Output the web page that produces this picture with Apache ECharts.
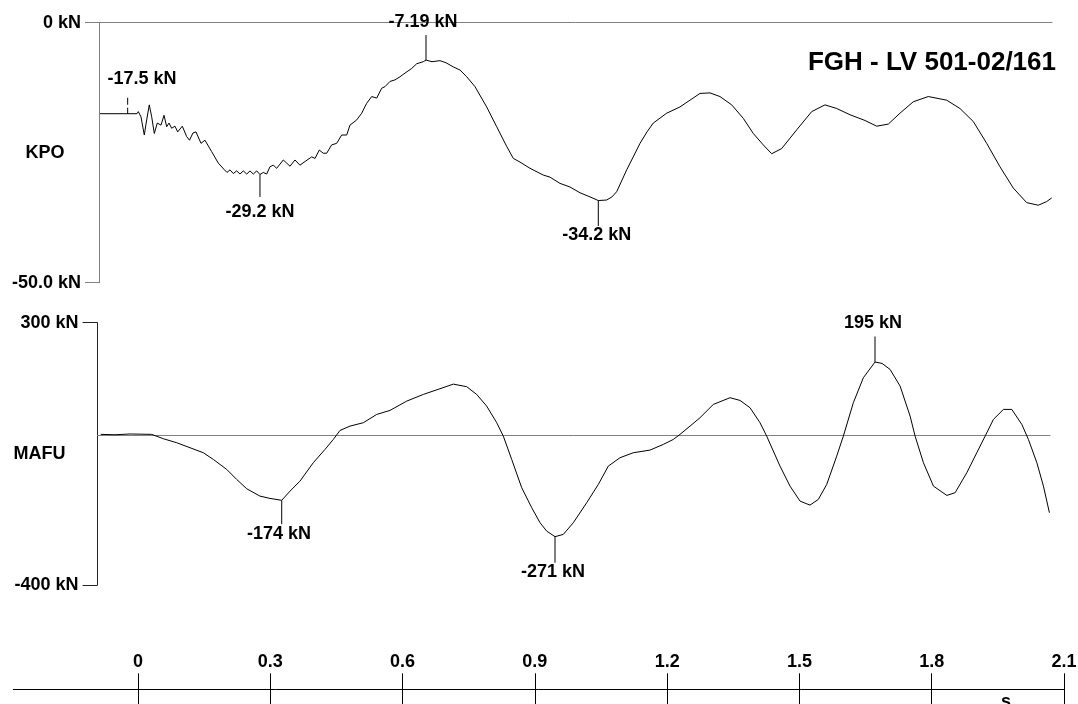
<!DOCTYPE html>
<html><head><meta charset="utf-8">
<script src="https://cdn.jsdelivr.net/npm/echarts@6/dist/echarts.min.js"></script>
<style>html,body{margin:0;padding:0;background:#fff}#c{width:1078px;height:704px}</style>
</head><body><div id="c"></div>
<script>
// ---- data (time in s, force in kN) ----
const kpoTime = [-0.0862,-0.0023,0.0007,0.0068,0.0143,0.0197,0.0256,0.0311,0.0370,0.0438,
0.0483,0.0522,0.0590,0.0651,0.0703,0.0764,0.0839,0.0900,0.1005,0.1104,
0.1168,0.1247,0.1315,0.1429,0.1519,0.1671,0.1821,0.1950,0.2018,0.2086,
0.2161,0.2238,0.2313,0.2388,0.2465,0.2540,0.2615,0.2692,0.2766,0.2841,
0.2918,0.2993,0.3068,0.3145,0.3295,0.3372,0.3447,0.3560,0.3673,0.3787,
0.3939,0.4014,0.4112,0.4202,0.4279,0.4392,0.4506,0.4619,0.4733,0.4807,
0.4959,0.5073,0.5186,0.5300,0.5413,0.5526,0.5601,0.5714,0.5828,0.5941,
0.6054,0.6206,0.6320,0.6469,0.6531,0.6667,0.6848,0.6984,0.7150,0.7302,
0.7454,0.7642,0.7907,0.8134,0.8361,0.8511,0.8662,0.8889,0.9190,0.9343,
0.9569,0.9796,1.0023,1.0250,1.0438,1.0628,1.0748,1.0855,1.1082,1.1384,
1.1542,1.1685,1.1989,1.2290,1.2517,1.2744,1.2971,1.3197,1.3463,1.3726,
1.3952,1.4179,1.4370,1.4597,1.4937,1.5277,1.5578,1.5844,1.6145,1.6485,
1.6751,1.7014,1.7279,1.7581,1.7921,1.8338,1.8639,1.8941,1.9245,1.9546,
1.9848,2.0152,2.0415,2.0605,2.0719];
const kpoForce = [-17.5,-17.5,-17.1,-18.1,-21.6,-18.7,-15.8,-18.1,-21.3,-19.3,
-19.0,-19.7,-17.8,-20.0,-19.3,-20.3,-19.9,-21.0,-19.9,-21.9,
-22.6,-21.2,-21.0,-23.2,-22.6,-24.8,-27.0,-28.2,-28.8,-28.3,
-29.0,-28.5,-29.1,-28.5,-29.1,-28.5,-29.1,-28.5,-29.2,-28.8,
-29.1,-27.7,-27.4,-28.0,-26.4,-27.0,-27.6,-26.4,-27.4,-26.7,
-25.8,-26.1,-24.5,-25.1,-25.1,-23.5,-23.2,-21.6,-21.6,-19.7,
-18.7,-17.4,-15.5,-14.2,-14.5,-12.6,-12.3,-11.3,-11.0,-10.4,
-9.7,-8.8,-7.9,-7.5,-7.19,-7.5,-7.3,-7.7,-8.5,-9.1,
-10.4,-12.3,-16.2,-20.0,-23.8,-26.1,-26.8,-28.0,-29.3,-29.7,
-30.9,-31.6,-32.7,-33.5,-34.2,-34.1,-33.5,-32.5,-28.3,-23.2,
-21.0,-19.3,-17.4,-16.2,-14.9,-13.6,-13.5,-14.2,-15.8,-18.4,
-21.3,-23.5,-25.2,-24.2,-20.6,-17.1,-15.8,-16.5,-17.7,-18.8,
-19.9,-19.5,-17.4,-15.2,-14.2,-14.9,-16.5,-19.0,-23.2,-27.7,
-31.8,-34.6,-35.1,-34.4,-33.7];
const mafuTime = [-0.0846,-0.0522,-0.0181,0.0311,0.0574,0.0878,0.1179,0.1481,0.1708,0.2011,
0.2238,0.2465,0.2766,0.2993,0.3259,0.3447,0.3673,0.3975,0.4240,0.4429,
0.4581,0.4807,0.5109,0.5413,0.5714,0.6093,0.6470,0.6848,0.7150,0.7454,
0.7680,0.7907,0.8134,0.8284,0.8474,0.8701,0.8928,0.9116,0.9268,0.9456,
0.9644,0.9871,1.0175,1.0438,1.0665,1.0930,1.1232,1.1610,1.1912,1.2139,
1.2290,1.2517,1.2744,1.3046,1.3424,1.3651,1.3878,1.4104,1.4256,1.4558,
1.4785,1.5012,1.5238,1.5427,1.5617,1.5844,1.5994,1.6221,1.6448,1.6712,
1.6872,1.7054,1.7281,1.7508,1.7621,1.7810,1.8037,1.8340,1.8528,1.8794,
1.9020,1.9209,1.9397,1.9624,1.9814,2.0041,2.0191,2.0382,2.0531,2.0667];
const mafuForce = [2,1,3,2,-9.6,-20.3,-33.6,-47.0,-64.9,-91.5,
-118.2,-143.1,-162.8,-168.9,-174,-149.5,-122.8,-73.7,-38.2,-11.5,
12.5,24.0,33.1,55.2,65.9,90.7,108.6,123.8,136.1,129.2,
108.6,77.4,33.1,-2.7,-64.9,-140.4,-193.8,-233.8,-256.2,-271,
-265.0,-233.8,-180.4,-131.6,-82.7,-60.3,-47.0,-40.0,-24.8,-11.5,
1.9,24.0,46.4,81.9,99.8,92.6,73.1,33.1,-2.7,-82.7,
-136.1,-176.1,-186.8,-171.6,-131.6,-56.0,-2.7,86.5,153.2,195,
191.4,175.3,130.8,50.7,-2.7,-73.7,-136.1,-160.9,-153.7,-100.3,
-47.0,-2.7,41.9,68.6,68.6,28.6,-11.5,-73.7,-136.1,-207.1];

const kpoMarkTime = [-0.0234, 0.2766, 0.6531, 1.0438];
const kpoMarkValue = [-17.5, -29.2, -7.19, -34.2];
const kpoMarkText = ['-17.5 kN', '-29.2 kN', '-7.19 kN', '-34.2 kN'];
const mafuMarkTime = [0.3259, 0.9456, 1.6712];
const mafuMarkValue = [-174, -271, 195];
const mafuMarkText = ['-174 kN', '-271 kN', '195 kN'];

const timeTicks = [0, 0.3, 0.6, 0.9, 1.2, 1.5, 1.8, 2.1];
const timeTickLabels = ['0', '0.3', '0.6', '0.9', '1.2', '1.5', '1.8', '2.1'];
const kpoTicks = [-50, 0];
const kpoTickLabels = ['-50.0 kN', '0 kN'];
const mafuTicks = [-400, 300];
const mafuTickLabels = ['-400 kN', '300 kN'];
const panelNames = ['KPO', 'MAFU'];
const titleText = 'FGH - LV 501-02/161';
const timeUnit = 's';

// ---- styling (positions / sizes) ----
const FONT = "'Liberation Sans', Arial, sans-serif";
const txt = {color: '#000', fontFamily: FONT, fontWeight: 'bold', fontSize: 18};
// per-marker: direction (+1 down, -1 up), tick length, label offset from point, dashed
const kpoMarkStyle = [
  {dir: -1, len: 16, dx: 14.3, dy: -34.7, dashed: true},
  {dir: 1, len: 22.5, dx: 0, dy: 37.5},
  {dir: -1, len: 25, dx: -3, dy: -38},
  {dir: 1, len: 25.5, dx: -1.6, dy: 34.5}
];
const mafuMarkStyle = [
  {dir: 1, len: 24, dx: -2.7, dy: 34},
  {dir: 1, len: 26, dx: -2, dy: 35.5},
  {dir: -1, len: 25.6, dx: -2, dy: -38.6}
];

function zip(a, b) { return a.map((x, i) => [x, b[i]]); }
function marks(times, values, texts, styles) {
  return times.map((t, i) => {
    const s = styles[i];
    return {
      coord: [t, values[i]],
      name: texts[i],
      symbol: s.dashed ? 'path://M0,0h1v7h-1z M0,10h1v6h-1z' : 'rect',
      symbolSize: [1, s.len],
      symbolOffset: [0, s.dir * s.len / 2],
      label: {offset: [s.dx, s.dy - s.dir * s.len / 2]}
    };
  });
}
function lookup(ticks, labels) {
  return v => { const i = ticks.findIndex(t => Math.abs(t - v) < 1e-6); return i >= 0 ? labels[i] : ''; };
}

const chart = echarts.init(document.getElementById('c'), null, {renderer: 'canvas'});
const gridBase = {containLabel: false, outerBoundsMode: 'none'};
const option = {
  animation: false,
  backgroundColor: '#fff',
  title: [{
    text: titleText, right: 22, top: 50, padding: 0,
    textStyle: Object.assign({}, txt, {fontSize: 26})
  }],
  graphic: [{
    type: 'text', x: 1006, y: 702, silent: true,
    style: {text: timeUnit, textAlign: 'center', textVerticalAlign: 'middle',
      font: 'bold 18px ' + FONT, fill: '#000'}
  }],
  grid: [
    Object.assign({left: 99, top: 22.7, width: 953, height: 260}, gridBase),
    Object.assign({left: 97.5, top: 322.7, width: 952.5, height: 262.3}, gridBase),
    Object.assign({left: 13.3, top: 689.3, width: 1050.7, height: 14.7}, gridBase)
  ],
  xAxis: [
    {gridIndex: 0, type: 'value', min: -0.0884, max: 2.0726,
      axisLine: {show: true, onZero: true, lineStyle: {color: '#808080', width: 1}},
      axisTick: {show: false}, axisLabel: {show: false}, splitLine: {show: false}},
    {gridIndex: 1, type: 'value', min: -0.0918, max: 2.0680,
      axisLine: {show: true, onZero: true, lineStyle: {color: '#808080', width: 1}},
      axisTick: {show: false}, axisLabel: {show: false}, splitLine: {show: false}},
    {gridIndex: 2, type: 'value', position: 'top', min: -0.2828, max: 2.1,
      axisLine: {show: true, onZero: false, lineStyle: {color: '#000', width: 1}},
      axisTick: {show: true, customValues: timeTicks, length: 16, lineStyle: {color: '#000', width: 1}},
      axisLabel: Object.assign({show: true, customValues: timeTicks, margin: 18,
        formatter: lookup(timeTicks, timeTickLabels)}, txt),
      splitLine: {show: false}},
    {gridIndex: 2, type: 'value', position: 'bottom', min: -0.2828, max: 2.1,
      axisLine: {show: false, onZero: false},
      axisTick: {show: true, inside: true, customValues: timeTicks, length: 15, lineStyle: {color: '#000', width: 1}},
      axisLabel: {show: false}, splitLine: {show: false}}
  ],
  yAxis: [
    {gridIndex: 0, type: 'value', min: -50, max: 0, interval: 50,
      axisLine: {show: true, onZero: false, lineStyle: {color: '#808080', width: 1}},
      axisTick: {show: true, length: 14, lineStyle: {color: '#808080', width: 1}},
      axisLabel: Object.assign({margin: 18, formatter: lookup(kpoTicks, kpoTickLabels)}, txt),
      splitLine: {show: false},
      name: panelNames[0], nameLocation: 'middle', nameGap: 54, nameRotate: 0, nameMoveOverlap: false,
      nameTextStyle: Object.assign({align: 'center', verticalAlign: 'middle'}, txt)},
    {gridIndex: 1, type: 'value', min: -400, max: 300,
      axisLine: {show: true, onZero: false, lineStyle: {color: '#222', width: 1}},
      axisTick: {show: true, customValues: mafuTicks, length: 15, lineStyle: {color: '#222', width: 1}},
      axisLabel: Object.assign({customValues: mafuTicks, margin: 19, formatter: lookup(mafuTicks, mafuTickLabels)}, txt),
      splitLine: {show: false},
      name: panelNames[1], nameLocation: 'middle', nameGap: 58, nameRotate: 0, nameMoveOverlap: false,
      nameTextStyle: Object.assign({align: 'center', verticalAlign: 'middle', padding: [4, 0, 0, 0]}, txt)},
    {gridIndex: 2, type: 'value', min: 0, max: 1, show: false}
  ],
  series: [
    {type: 'line', xAxisIndex: 0, yAxisIndex: 0, data: zip(kpoTime, kpoForce),
      showSymbol: false, symbol: 'none', lineStyle: {color: '#000', width: 1}, silent: true,
      markPoint: {silent: true, itemStyle: {color: '#000'},
        label: Object.assign({show: true, position: 'inside', formatter: '{b}'}, txt),
        data: marks(kpoMarkTime, kpoMarkValue, kpoMarkText, kpoMarkStyle)}},
    {type: 'line', xAxisIndex: 1, yAxisIndex: 1, data: zip(mafuTime, mafuForce),
      showSymbol: false, symbol: 'none', lineStyle: {color: '#000', width: 1}, silent: true,
      markPoint: {silent: true, itemStyle: {color: '#000'},
        label: Object.assign({show: true, position: 'inside', formatter: '{b}'}, txt),
        data: marks(mafuMarkTime, mafuMarkValue, mafuMarkText, mafuMarkStyle)}}
  ]
};
chart.setOption(option);
</script>
</body></html>
